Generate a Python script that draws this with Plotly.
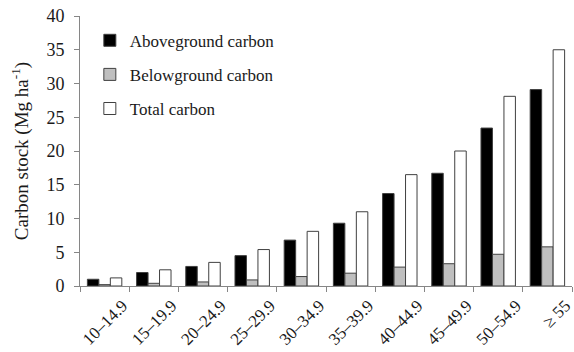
import plotly.graph_objects as go

categories = ["10–14.9", "15–19.9", "20–24.9", "25–29.9", "30–34.9",
              "35–39.9", "40–44.9", "45–49.9", "50–54.9", "≥ 55"]
aboveground = [1.0, 2.0, 2.9, 4.5, 6.8, 9.3, 13.7, 16.7, 23.4, 29.1]
belowground = [0.2, 0.4, 0.6, 0.9, 1.4, 1.9, 2.8, 3.3, 4.7, 5.8]
total = [1.2, 2.4, 3.5, 5.4, 8.1, 11.0, 16.5, 20.0, 28.1, 35.0]

series = [
    ("Aboveground carbon", aboveground, "#000000"),
    ("Belowground carbon", belowground, "#bfbfbf"),
    ("Total carbon", total, "#ffffff"),
]

font_family = "Liberation Serif, Times New Roman, serif"
fig = go.Figure()
for i, (name, vals, color) in enumerate(series):
    fig.add_trace(go.Bar(
        x=categories, y=vals, name=name,
        marker=dict(color=color, line=dict(color="#404040", width=1)),
        legendgroup=f"g{i}",
    ))

fig.update_layout(
    width=574, height=352,
    margin=dict(l=80, r=2, t=16, b=66),
    paper_bgcolor="white", plot_bgcolor="white",
    barmode="group", bargap=0.3, bargroupgap=0,
    font=dict(family=font_family, size=17, color="#1a1a1a"),
    showlegend=True,
    legend=dict(x=0.02, y=0.975, xanchor="left", yanchor="top",
                font=dict(size=17), traceorder="grouped", tracegroupgap=9,
                bgcolor="rgba(0,0,0,0)", itemwidth=30),
    xaxis=dict(showline=True, linecolor="#868686", linewidth=1,
               ticks="outside", tickson="boundaries", ticklen=5,
               tickcolor="#868686", tickangle=-45, showgrid=False,
               tickfont=dict(size=17), automargin=False,
               ticklabelshift=18, ticklabelstandoff=2),
    yaxis=dict(range=[0, 40], dtick=5, showline=True, linecolor="#868686",
               linewidth=1, ticks="outside", ticklen=5, tickcolor="#868686",
               showgrid=False, zeroline=False, tickfont=dict(size=18),
               automargin=False, ticklabelstandoff=6,
               title=dict(text="Carbon stock (Mg ha<sup>-1</sup>)",
                          font=dict(size=19), standoff=12)),
)

fig.write_html("out.html", config={"displayModeBar": False},
               post_script="document.body.style.margin='0';")
